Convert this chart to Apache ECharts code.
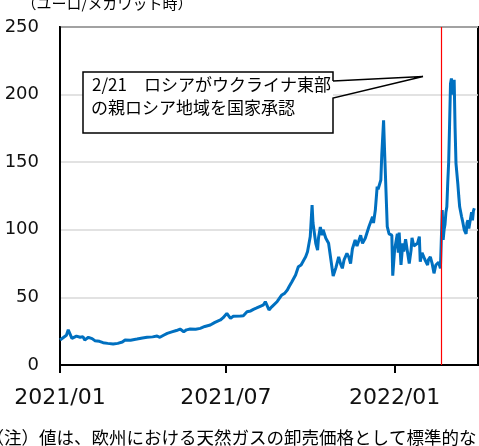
<!DOCTYPE html>
<html>
<head>
<meta charset="utf-8">
<script src="https://cdn.jsdelivr.net/npm/echarts@6/dist/echarts.min.js"></script>
<style>
  html, body { margin: 0; padding: 0; background: #fff; }
  #main { width: 479px; height: 446px; }
</style>
</head>
<body>
<div id="main"></div>
<script>
// 欧州天然ガス価格（ユーロ/メガワット時）
const dates = [
  '2021-01-01', '2021-01-04', '2021-01-08', '2021-01-10', '2021-01-14', '2021-01-16', '2021-01-19', '2021-01-23',
  '2021-01-26', '2021-01-28', '2021-02-01', '2021-02-05', '2021-02-08', '2021-02-13', '2021-02-17', '2021-02-22',
  '2021-02-28', '2021-03-05', '2021-03-10', '2021-03-13', '2021-03-19', '2021-03-26', '2021-04-01', '2021-04-06',
  '2021-04-12', '2021-04-17', '2021-04-20', '2021-04-24', '2021-04-28', '2021-05-03', '2021-05-08', '2021-05-12',
  '2021-05-16', '2021-05-19', '2021-05-23', '2021-05-29', '2021-06-03', '2021-06-08', '2021-06-14', '2021-06-19',
  '2021-06-25', '2021-06-28', '2021-07-02', '2021-07-06', '2021-07-09', '2021-07-11', '2021-07-17', '2021-07-20',
  '2021-07-24', '2021-07-28', '2021-07-31', '2021-08-03', '2021-08-08', '2021-08-11', '2021-08-13', '2021-08-17',
  '2021-08-20', '2021-08-22', '2021-08-26', '2021-08-31', '2021-09-03', '2021-09-06', '2021-09-08', '2021-09-11',
  '2021-09-13', '2021-09-15', '2021-09-17', '2021-09-18', '2021-09-21', '2021-09-24', '2021-09-26', '2021-09-28',
  '2021-09-29', '2021-10-01', '2021-10-03', '2021-10-04', '2021-10-07', '2021-10-09', '2021-10-10', '2021-10-12',
  '2021-10-14', '2021-10-15', '2021-10-18', '2021-10-21', '2021-10-23', '2021-10-26', '2021-10-29', '2021-11-01',
  '2021-11-03', '2021-11-05', '2021-11-07', '2021-11-10', '2021-11-12', '2021-11-14', '2021-11-16', '2021-11-19',
  '2021-11-21', '2021-11-25', '2021-11-27', '2021-11-30', '2021-12-04', '2021-12-08', '2021-12-09', '2021-12-11',
  '2021-12-13', '2021-12-14', '2021-12-17', '2021-12-18', '2021-12-20', '2021-12-21', '2021-12-24', '2021-12-26',
  '2021-12-29', '2021-12-30', '2022-01-01', '2022-01-04', '2022-01-05', '2022-01-06', '2022-01-08', '2022-01-10',
  '2022-01-11', '2022-01-13', '2022-01-17', '2022-01-19', '2022-01-20', '2022-01-22', '2022-01-24', '2022-01-26',
  '2022-01-28', '2022-01-29', '2022-01-31', '2022-02-03', '2022-02-06', '2022-02-07', '2022-02-09', '2022-02-11',
  '2022-02-13', '2022-02-15', '2022-02-17', '2022-02-18', '2022-02-20', '2022-02-22', '2022-02-23', '2022-02-24',
  '2022-02-25', '2022-02-26', '2022-02-27', '2022-02-28', '2022-03-01', '2022-03-02', '2022-03-03', '2022-03-04',
  '2022-03-05', '2022-03-06', '2022-03-07', '2022-03-08', '2022-03-09', '2022-03-11', '2022-03-12', '2022-03-13',
  '2022-03-15', '2022-03-16', '2022-03-18', '2022-03-20', '2022-03-21', '2022-03-22', '2022-03-23', '2022-03-25',
  '2022-03-26', '2022-03-27', '2022-03-28', '2022-03-29'
];
const prices = [
  18.5, 20, 22, 26, 19.7, 20.5, 21.4, 20.5,
  21, 18.5, 20.5, 19.5, 18, 17.5, 16.5, 16,
  15.5, 16, 17, 18.5, 18.3, 19.2, 20, 20.5,
  20.8, 21.4, 20.5, 22, 23.4, 24.5, 25.5, 26.6,
  24.6, 26, 26.6, 26.5, 27.1, 28.5, 29.6, 31.5,
  33.3, 35, 38.2, 34.5, 36, 35.7, 36.2, 36.5,
  39.4, 40, 41.1, 42, 43.6, 44.5, 46.8, 40.7,
  43, 44.4, 47, 51.8, 53, 55.5, 58, 61.6,
  63, 66.6, 68, 72.7, 74, 77.7, 80, 83.8,
  85, 95, 118.3, 105, 90, 85, 94, 102,
  96, 100, 93.7, 90, 90.5, 65.8, 72, 80,
  75, 71.5, 78, 82.6, 80, 75, 86, 92.5,
  88, 96, 90, 93.7, 102.3, 109.7, 105, 114.6,
  131.9, 130, 136.8, 155, 181, 160, 102.3, 97,
  96, 66, 85, 97, 83, 98, 74, 90,
  84, 93, 75, 85, 94, 88, 87.5, 90,
  95, 76.4, 83, 78, 74, 78, 80, 75,
  67.8, 74, 72.7, 76, 71.5, 114.6, 92.5, 100,
  104, 113, 117, 135, 150, 178, 208, 212,
  200, 207, 211, 175, 149, 134, 125, 117,
  110, 107, 100, 97, 105, 107, 101, 100,
  113, 107, 114, 116
];
const xTicks = ['2021-01-01', '2021-07-01', '2022-01-01'];
const eventDate = '2022-02-21';
const unitLabel = '（ユーロ/メガワット時）';
const noteLine1 = '2/21　ロシアがウクライナ東部';
const noteLine2 = 'の親ロシア地域を国家承認';
const footnote = '（注）値は、欧州における天然ガスの卸売価格として標準的な';

const toTime = s => {
  const p = s.split('-');
  return new Date(+p[0], +p[1] - 1, +p[2]).getTime();
};

const chart = echarts.init(document.getElementById('main'));
const cjk = '"Noto Sans CJK JP", "Noto Sans", sans-serif';

const option = {
  animation: false,
  backgroundColor: '#fff',
  grid: {
    left: 60,
    right: 1,
    top: 27,
    bottom: 81,
    show: true,
    borderColor: '#000',
    borderWidth: 2
  },
  xAxis: {
    type: 'value',
    min: toTime('2021-01-01'),
    max: toTime('2022-04-02'),
    axisLine: { show: true, lineStyle: { color: '#000', width: 2 } },
    axisTick: {
      show: true,
      inside: false,
      length: 8,
      lineStyle: { color: '#000', width: 2 },
      customValues: xTicks.map(toTime)
    },
    axisLabel: {
      customValues: xTicks.map(toTime),
      margin: 22,
      fontSize: 22,
      fontFamily: '"DejaVu Sans"',
      color: '#111',
      formatter: val => {
        const d = new Date(val);
        return d.getFullYear() + '/' + String(d.getMonth() + 1).padStart(2, '0');
      }
    },
    splitLine: { show: false }
  },
  yAxis: {
    type: 'value',
    min: 0,
    max: 250,
    interval: 50,
    axisLine: { show: true, lineStyle: { color: '#000', width: 2 } },
    axisTick: { show: false },
    axisLabel: {
      margin: 21,
      fontSize: 18,
      fontFamily: '"DejaVu Sans"',
      color: '#111'
    },
    splitLine: { show: true, lineStyle: { color: '#d9d9d9', width: 1.5 } }
  },
  series: [{
    type: 'line',
    data: dates.map((d, i) => [toTime(d), prices[i]]),
    showSymbol: false,
    symbol: 'none',
    lineStyle: { color: '#0070c0', width: 3 },
    markLine: {
      silent: true,
      symbol: ['none', 'none'],
      label: { show: false },
      lineStyle: { color: '#ff0000', width: 1.2, type: 'solid', opacity: 1 },
      data: [{ xAxis: toTime(eventDate) }]
    }
  }],
  graphic: [
    {
      type: 'text',
      x: 107,
      y: 3,
      style: {
        text: unitLabel,
        font: '15px ' + cjk,
        fill: '#000',
        textAlign: 'center',
        textVerticalAlign: 'middle'
      }
    },
    {
      type: 'rect',
      shape: { x: 83, y: 72, width: 250, height: 61 },
      style: { fill: '#fff', stroke: null },
      z: 100
    },
    {
      type: 'polyline',
      shape: {
        points: [[333, 81], [333, 72], [83, 72], [83, 133], [333, 133], [333, 98], [423, 76.5], [333, 81]]
      },
      style: { stroke: '#000', lineWidth: 1.5, fill: null },
      z: 101
    },
    {
      type: 'text',
      x: 92,
      y: 85,
      z: 102,
      style: {
        text: noteLine1,
        font: '17px ' + cjk,
        fill: '#000',
        textVerticalAlign: 'middle'
      }
    },
    {
      type: 'text',
      x: 91,
      y: 108,
      z: 102,
      style: {
        text: noteLine2,
        font: '17px ' + cjk,
        fill: '#000',
        textVerticalAlign: 'middle'
      }
    },
    {
      type: 'text',
      x: -13.5,
      y: 437,
      style: {
        text: footnote,
        font: '17.5px ' + cjk,
        fill: '#000',
        textVerticalAlign: 'middle'
      }
    }
  ]
};
chart.setOption(option);
</script>
</body>
</html>
